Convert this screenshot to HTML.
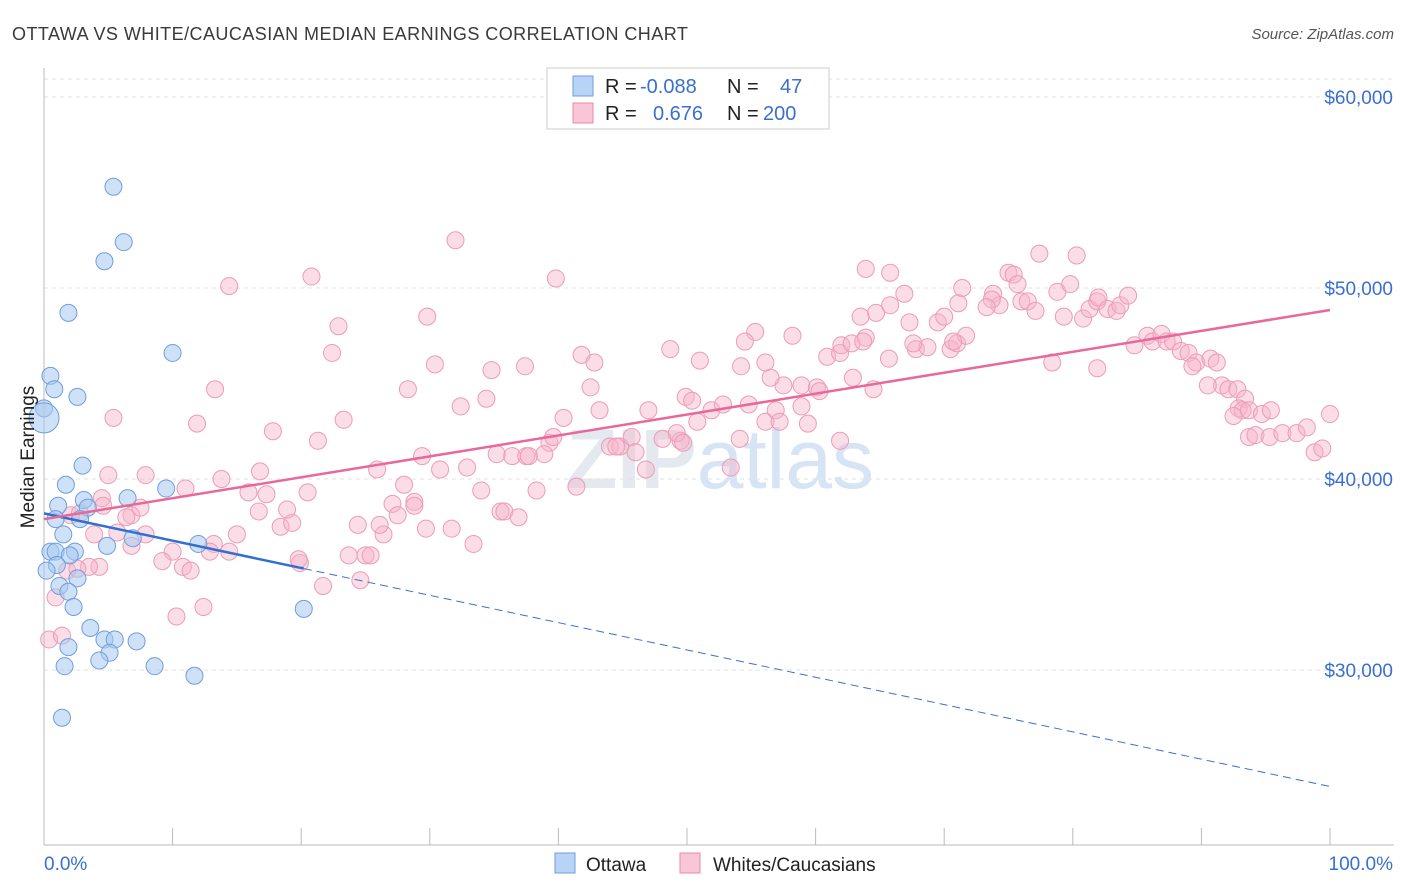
<!DOCTYPE html>
<html><head><meta charset="utf-8">
<style>
body{margin:0;background:#fff;font-family:"Liberation Sans",sans-serif;}
svg{display:block}
</style></head>
<body>
<svg id="chart" width="1406" height="892" viewBox="0 0 1406 892">
<text x="12" y="40" font-size="18" fill="#3a3a3a" letter-spacing="0.45">OTTAWA VS WHITE/CAUCASIAN MEDIAN EARNINGS CORRELATION CHART</text>
<text x="1394" y="39" font-size="15" fill="#555" font-style="italic" text-anchor="end">Source: ZipAtlas.com</text>
<text x="720" y="488" font-size="84" fill="#e4e9f0" text-anchor="middle" font-weight="bold">ZIP<tspan fill="#d6e4f5" font-weight="normal">atlas</tspan></text>
<g id="grid"></g>
<g id="axes"></g>
<g id="marks"></g>
<text transform="translate(34,457) rotate(-90)" font-size="19" fill="#222" text-anchor="middle">Median Earnings</text>
<g>
<rect x="547" y="68" width="282" height="61" fill="#fff" stroke="#ccc"/>
<rect x="573" y="76" width="20" height="20" fill="#b8d3f5" stroke="#6f9fdc"/>
<rect x="573" y="103" width="20" height="20" fill="#f8c6d6" stroke="#e88aa8"/>
<text x="605" y="93" font-size="20" fill="#222">R = <tspan x="640" fill="#3a6fd0">-0.088</tspan><tspan x="727" fill="#222">N =</tspan><tspan x="780" fill="#3a6fd0">47</tspan></text>
<text x="605" y="120" font-size="20" fill="#222">R = <tspan x="653" fill="#3a6fd0">0.676</tspan><tspan x="727" fill="#222">N =</tspan><tspan x="763" fill="#3a6fd0">200</tspan></text>
</g>
<rect x="555" y="853" width="20" height="20" fill="#b8d3f5" stroke="#6f9fdc"/>
<text x="586" y="871" font-size="19" fill="#222">Ottawa</text>
<rect x="680" y="853" width="20" height="20" fill="#f8c6d6" stroke="#e88aa8"/>
<text x="713" y="871" font-size="19" fill="#222">Whites/Caucasians</text>
</svg>
<script>
const yTicks=[30000,40000,50000,60000];
const yTickLabels=["$30,000","$40,000","$50,000","$60,000"];
const xTickLabels=["0.0%","100.0%"];
const ottawaX=[5.4,6.2,4.7,1.9,10.0,0.5,0.8,2.6,0,0,3.0,1.7,9.5,6.5,3.1,1.1,3.4,0.9,2.8,1.5,4.9,6.9,12.0,0.5,0.9,2.4,2.0,1.0,0.2,2.6,1.2,1.9,2.3,20.2,3.6,4.7,5.5,7.2,1.9,5.1,4.3,1.6,8.6,11.7,1.4];
const ottawaY=[55.3,52.4,51.4,48.7,46.6,45.4,44.7,44.3,43.7,43.2,40.7,39.7,39.5,39.0,38.9,38.6,38.5,37.9,37.9,37.1,36.5,36.9,36.6,36.2,36.2,36.2,36.0,35.5,35.2,34.8,34.4,34.1,33.3,33.2,32.2,31.6,31.6,31.5,31.2,30.9,30.5,30.2,30.2,29.7,27.5];
const whitesX=[32.0,20.8,14.4,39.8,22.9,29.8,22.4,28.3,13.3,5.4,11.9,17.8,21.3,23.3,30.4,34.8,32.4,34.4,37.4,41.8,42.8,42.5,43.2,40.4,39.3,36.4,38.9,37.5,35.2,32.9,30.8,29.4,25.9,28.8,28.0,34.0,27.1,28.8,27.5,24.4,26.4,23.7,25.0,25.4,21.7,19.9,18.4,19.3,20.5,18.9,16.7,15.9,17.3,15.0,13.2,14.4,12.9,13.8,11.0,10.0,9.2,7.9,6.8,6.8,7.5,6.4,4.5,5.7,3.9,2.1,4.3,3.5,1.8,0.9,0.4,1.4,10.8,11.4,12.4,10.3,7.9,33.4,35.5,35.8,36.9,38.3,44.0,44.8,45.7,48.1,47.0,48.7,51.0,49.9,51.9,54.1,49.5,50.4,50.8,52.8,54.8,53.4,56.1,56.9,58.9,59.4,57.5,58.9,58.2,55.3,54.5,54.2,56.1,56.5,60.1,60.3,62.9,60.9,61.9,62.0,62.8,63.9,64.7,65.8,63.5,63.9,65.8,66.9,67.3,67.8,68.7,69.5,70.0,70.5,71.0,71.7,71.1,71.4,73.8,74.3,73.7,75.0,75.4,75.7,76.0,76.5,77.4,77.1,78.4,78.8,79.8,79.3,80.3,80.8,81.9,81.3,81.9,82.0,82.7,83.4,83.7,84.3,84.8,85.8,86.2,86.9,87.3,87.8,88.4,89.0,89.6,89.3,90.7,91.2,91.6,90.5,92.1,92.8,93.4,92.9,93.2,92.5,93.7,94.7,95.4,93.7,94.2,95.3,96.3,97.4,98.2,98.8,99.4,100,70.7,73.3,67.6,64.5,65.7,63.7,61.9,57.2,49.2,44.5,46.0,49.7,46.8,41.4,39.6,37.7,26.1,29.7,24.6,31.7,19.8,16.8,5.0,2.6,4.6,2.8];
const whitesY=[52.5,50.6,50.1,50.5,48.0,48.5,46.6,44.7,44.7,43.2,42.9,42.5,42.0,43.1,46.0,45.7,43.8,44.2,45.9,46.5,46.1,44.8,43.6,43.2,41.9,41.2,41.3,41.2,41.3,40.6,40.5,41.2,40.5,38.8,39.7,39.4,38.7,38.6,38.1,37.6,37.1,36.0,36.0,36.0,34.4,35.6,37.5,37.7,39.3,38.4,38.3,39.3,39.2,37.1,36.6,36.2,36.2,40.0,39.5,36.2,35.7,37.1,36.5,38.1,38.5,38.0,39.0,37.2,37.1,38.1,35.4,35.4,35.2,33.8,31.6,31.8,35.4,35.2,33.3,32.8,40.2,36.6,38.3,38.3,38.0,39.4,41.7,41.7,42.2,42.1,43.6,46.8,46.2,44.3,43.6,42.1,42.0,44.1,43.0,43.9,43.9,40.6,43.0,43.6,43.8,42.9,44.9,44.9,47.5,47.7,47.2,45.9,46.1,45.3,44.8,44.6,45.3,46.4,46.6,47.0,47.1,47.4,48.7,49.1,48.5,51.0,50.8,49.7,48.2,46.8,46.9,48.2,48.5,46.8,47.1,47.5,49.2,50.0,49.7,49.1,49.4,50.8,50.7,50.2,49.3,49.3,51.8,48.8,46.1,49.8,50.2,48.5,51.7,48.4,45.8,48.9,49.3,49.5,48.9,48.8,49.1,49.6,47.0,47.5,47.2,47.6,47.2,47.2,46.7,46.6,46.1,45.9,46.3,46.1,44.9,44.9,44.7,44.7,44.2,43.7,43.6,43.3,43.6,43.4,43.6,42.2,42.3,42.2,42.4,42.4,42.7,41.4,41.6,43.4,47.2,49.0,47.1,44.7,46.3,47.2,42.0,43.0,42.4,41.7,41.4,41.9,40.5,39.6,42.2,41.2,37.6,37.4,34.7,37.4,35.8,40.4,40.2,35.3,38.6,38.2];
const ottawaTrend=[38.2,23.9];
const whitesTrend=[37.9,48.85];

const NS="http://www.w3.org/2000/svg";
const X=p=>44+p*12.86;
const Y=v=>97+(60000-v)/10000*191;
const Yk=k=>Y(k*1000);
function mk(tag,attrs,parent){const e=document.createElementNS(NS,tag);for(const k in attrs)e.setAttribute(k,attrs[k]);parent.appendChild(e);return e;}
const grid=document.getElementById('grid'),axes=document.getElementById('axes'),marks=document.getElementById('marks');
let g=mk('line',{x1:44,x2:1394,y1:79,y2:79,stroke:'#e2e2e2','stroke-dasharray':'4,4'},grid);


yTicks.forEach((v,i)=>{
 const l=mk('line',{x1:44,x2:1394,y1:Y(v),y2:Y(v),stroke:'#e2e2e2','stroke-dasharray':'4,4'},grid);
 
 
 const t=mk('text',{x:1393,y:Y(v)+7,'font-size':19,fill:'#3a6fd0','text-anchor':'end'},axes);
 t.textContent=yTickLabels[i];
 
 
});
let a=mk('line',{x1:44,x2:44,y1:68,y2:845,stroke:'#bbb'},axes);


a=mk('line',{x1:44,x2:1394,y1:845,y2:845,stroke:'#bbb'},axes);


for(let i=1;i<=10;i++){const t=mk('line',{x1:X(i*10),x2:X(i*10),y1:828,y2:845,stroke:'#bbb'},axes);
 
 }
let xl=mk('text',{x:44,y:870,'font-size':19,fill:'#3a6fd0'},axes);xl.textContent=xTickLabels[0];


xl=mk('text',{x:1393,y:870,'font-size':19,fill:'#3a6fd0','text-anchor':'end'},axes);xl.textContent=xTickLabels[1];



whitesX.forEach((x,i)=>{const c=mk('circle',{cx:X(x),cy:Yk(whitesY[i]),r:8.5,fill:'rgba(246,180,202,0.45)',stroke:'#ec9cb6','stroke-width':1},marks);
 
 });
ottawaX.forEach((x,i)=>{const c=mk('circle',{cx:X(x),cy:Yk(ottawaY[i]),r:(i==9?15:8.5),fill:'rgba(168,200,240,0.55)',stroke:'#6f9fdc','stroke-width':1},marks);
 
 });
const oy=p=>ottawaTrend[0]+(ottawaTrend[1]-ottawaTrend[0])*p/100;
let tl=mk('line',{x1:X(20.2),y1:Yk(oy(20.2)),x2:X(100),y2:Yk(oy(100)),stroke:'#3a70d0','stroke-width':1,'stroke-dasharray':'8,5'},marks);


tl=mk('line',{x1:X(0),y1:Yk(oy(0)),x2:X(20.2),y2:Yk(oy(20.2)),stroke:'#3070d0','stroke-width':2.5},marks);


tl=mk('line',{x1:X(0),y1:Yk(whitesTrend[0]),x2:X(100),y2:Yk(whitesTrend[1]),stroke:'#e8689a','stroke-width':2.5},marks);


</script>
</body></html>
